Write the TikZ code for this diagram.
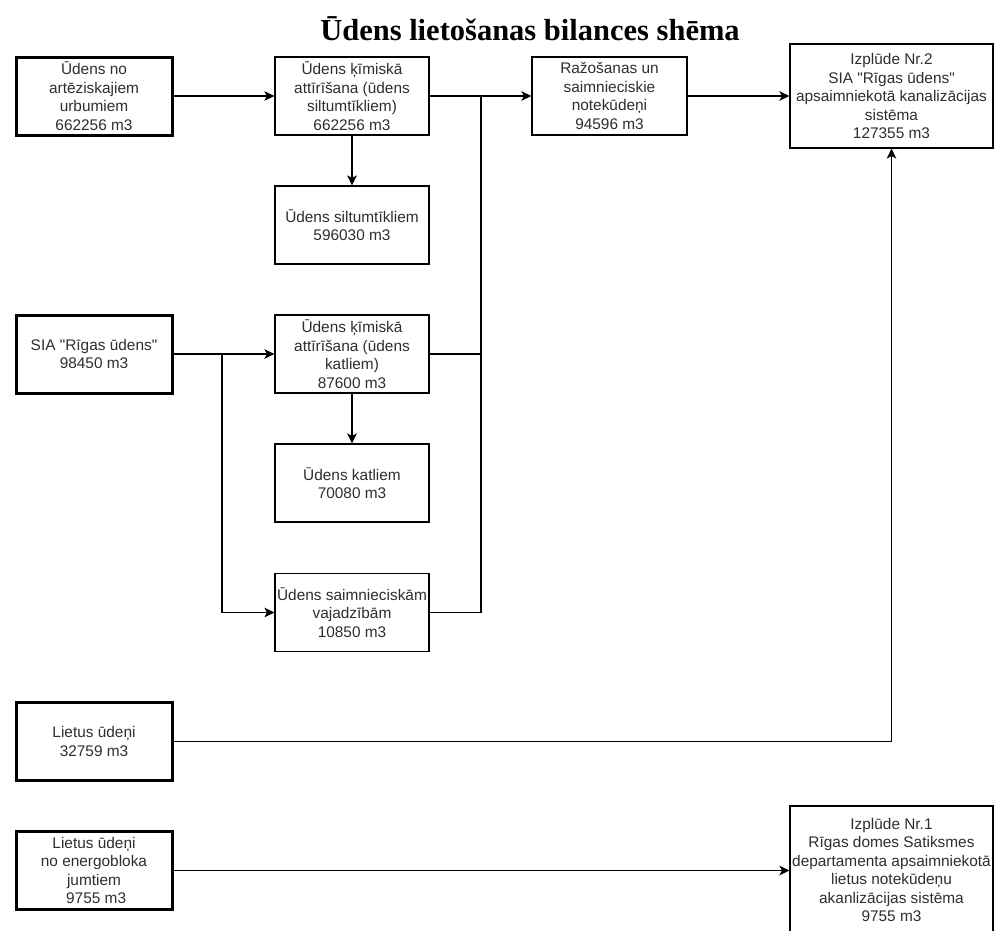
\documentclass[tikz,border=0pt]{standalone}
\usepackage{fontspec}
\setmainfont{Liberation Sans}[Ligatures=TeXOff]
\newfontfamily\titlefont{Liberation Serif}
\usetikzlibrary{arrows.meta}
\tikzset{
  box/.style={draw=black, line width=1.1pt, fill=white, inner sep=0pt, align=center,
    font=\fontsize{15.4}{18.5}\selectfont, text=black!82},
  srcbox/.style={box, line width=3pt},
  arr/.style={line width=1.1pt, -{Stealth[length=10pt,width=9.5pt,inset=2.5pt]}},
  ln/.style={line width=1.1pt},
}
\begin{document}
\begin{tikzpicture}[x=1pt,y=-1pt]
\useasboundingbox (0,0) rectangle (999,930);
\node[font=\titlefont\bfseries\fontsize{30.5}{33}\selectfont, anchor=base, inner sep=0pt] (title) at (530,40) {Ūdens lietošanas bilances shēma};
\node[srcbox, minimum width=156pt, minimum height=78pt] (A) at (94,96) {Ūdens no\\artēziskajiem\\urbumiem\\662256 m3};
\node[box, minimum width=154pt, minimum height=78pt] (B) at (352,96) {Ūdens ķīmiskā\\attīrīšana (ūdens\\siltumtīkliem)\\662256 m3};
\node[box, minimum width=155pt, minimum height=78pt] (C) at (609.5,96) {Ražošanas un\\saimnieciskie\\notekūdeņi\\94596 m3};
\node[box, minimum width=203pt, minimum height=104pt] (D) at (891.5,96) {Izplūde Nr.2\\SIA "Rīgas ūdens"\\apsaimniekotā kanalizācijas\\sistēma\\127355 m3};
\node[box, minimum width=154pt, minimum height=78pt] (E) at (352,225) {Ūdens siltumtīkliem\\596030 m3};
\node[srcbox, minimum width=156pt, minimum height=78pt] (F) at (94,354) {SIA "Rīgas ūdens"\\98450 m3};
\node[box, minimum width=154pt, minimum height=78pt] (G) at (352,354) {Ūdens ķīmiskā\\attīrīšana (ūdens\\katliem)\\87600 m3};
\node[box, minimum width=154pt, minimum height=78pt] (H) at (352,483) {Ūdens katliem\\70080 m3};
\node[box, minimum width=154pt, minimum height=78pt] (I) at (352,612.5) {Ūdens saimnieciskām\\vajadzībām\\10850 m3};
\node[srcbox, minimum width=156pt, minimum height=78pt] (J) at (94,741.5) {Lietus ūdeņi\\32759 m3};
\node[srcbox, minimum width=156pt, minimum height=78pt] (K) at (94,870.5) {Lietus ūdeņi\\no energobloka\\jumtiem\\\ 9755 m3};
\node[box, minimum width=203pt, minimum height=128pt] (L) at (891.5,870) {Izplūde Nr.1\\Rīgas domes Satiksmes\\departamenta apsaimniekotā\\lietus notekūdeņu\\akanlizācijas sistēma\\9755 m3};
\coordinate (t1) at (481,96);
\coordinate (b1) at (222,354);
\draw[arr] (A) -- (B);
\draw[arr] (B) -- (C);
\draw[arr] (C) -- (D);
\draw[arr] (B) -- (E);
\draw[arr] (F) -- (G);
\draw[arr] (G) -- (H);
\draw[ln] (G.east) -| (t1);
\draw[ln] (I.east) -| (t1);
\draw[arr] (b1) |- (I.west);
\draw[arr] (J.east) -| (D.south);
\draw[arr] (K.east) -- (K.east -| L.west);
\end{tikzpicture}
\end{document}
